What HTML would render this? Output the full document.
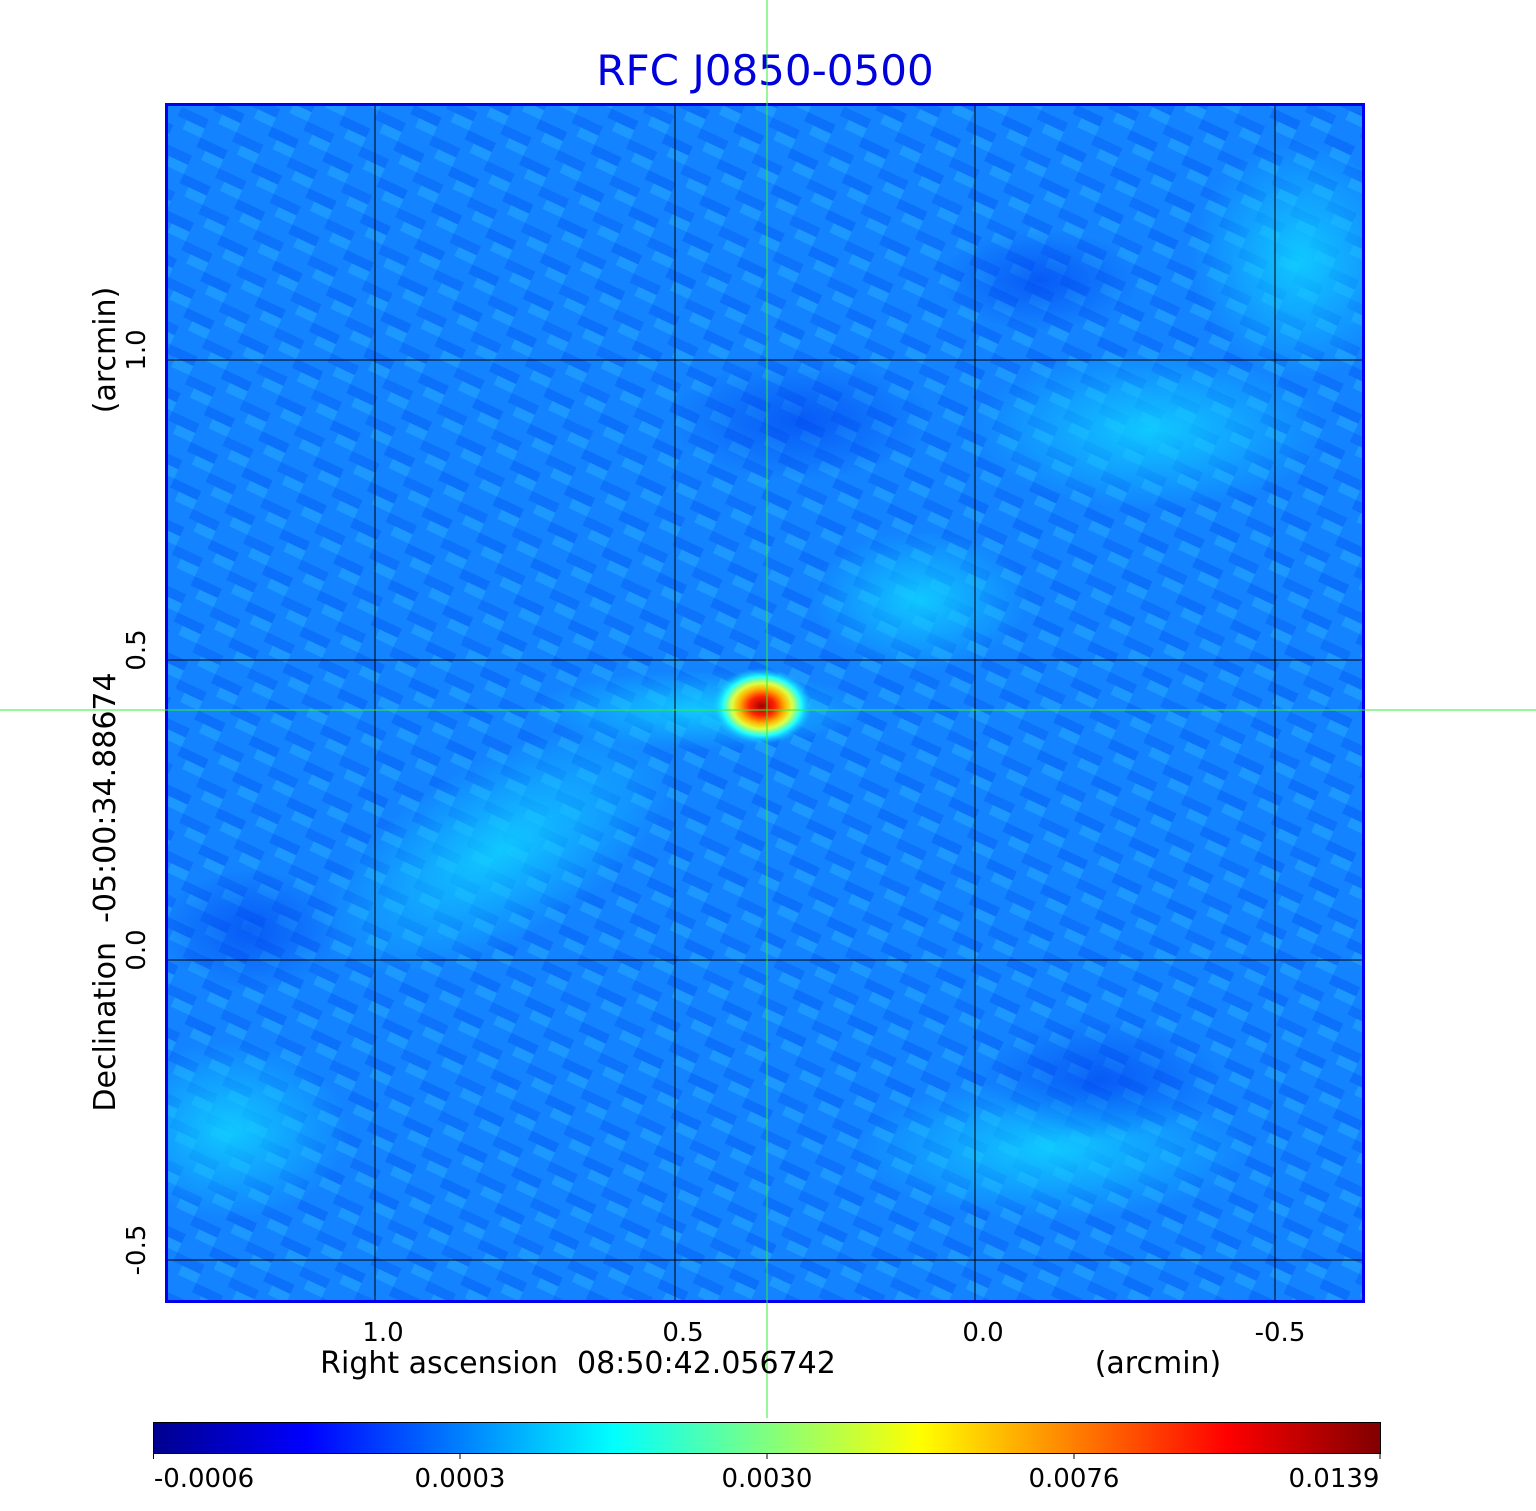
<!DOCTYPE html>
<html><head><meta charset="utf-8"><style>
html,body{margin:0;padding:0;background:#fff;width:1536px;height:1511px;overflow:hidden;font-family:"DejaVu Sans","Liberation Sans",sans-serif}
text{white-space:pre}
</style></head><body>
<svg width="1536" height="1511" xmlns="http://www.w3.org/2000/svg" style="position:absolute;left:0;top:0">
<defs>
<clipPath id="clip"><rect x="165" y="103" width="1200" height="1200"/></clipPath>
<linearGradient id="jet" x1="0" x2="1" y1="0" y2="0">
<stop offset="0" stop-color="#00008f"/><stop offset="0.125" stop-color="#0000ff"/>
<stop offset="0.375" stop-color="#00ffff"/><stop offset="0.625" stop-color="#ffff00"/>
<stop offset="0.875" stop-color="#ff0000"/><stop offset="1" stop-color="#800000"/>
</linearGradient>
<radialGradient id="lt"><stop offset="0" stop-color="#10d0ff" stop-opacity="0.9"/><stop offset="1" stop-color="#10c8ff" stop-opacity="0"/></radialGradient>
<radialGradient id="dk"><stop offset="0" stop-color="#0040f0" stop-opacity="0.6"/><stop offset="1" stop-color="#0040f0" stop-opacity="0"/></radialGradient>
<radialGradient id="src" cx="0.5" cy="0.5" r="0.5">
<stop offset="0" stop-color="#a00000"/><stop offset="0.25" stop-color="#ff2000"/>
<stop offset="0.45" stop-color="#ffb000"/><stop offset="0.6" stop-color="#e0ff40"/>
<stop offset="0.78" stop-color="#20ffff"/><stop offset="1" stop-color="#10c0ff" stop-opacity="0"/>
</radialGradient>
<pattern id="noise" width="60" height="40" patternUnits="userSpaceOnUse" patternTransform="rotate(25)">
<rect x="0" y="0" width="30" height="10" fill="#0050f0" opacity="0.35"/>
<rect x="30" y="20" width="30" height="10" fill="#0050f0" opacity="0.3"/>
<rect x="10" y="10" width="20" height="10" fill="#30c0ff" opacity="0.35"/>
<rect x="40" y="30" width="20" height="10" fill="#30c0ff" opacity="0.35"/>
</pattern>
</defs>
<text x="765" y="85" font-size="42" fill="#0000dd" text-anchor="middle">RFC J0850-0500</text>
<g clip-path="url(#clip)">
<rect x="165" y="103" width="1200" height="1200" fill="#1383ff"/>
<rect x="165" y="103" width="1200" height="1200" fill="url(#noise)"/>
<ellipse cx="920" cy="600" rx="110" ry="70" fill="url(#lt)"/>
<ellipse cx="500" cy="850" rx="200" ry="90" fill="url(#lt)" transform="rotate(-30 500 850)"/>
<ellipse cx="230" cy="1130" rx="120" ry="90" fill="url(#lt)"/>
<ellipse cx="1300" cy="260" rx="110" ry="120" fill="url(#lt)"/>
<ellipse cx="1150" cy="430" rx="180" ry="80" fill="url(#lt)"/>
<ellipse cx="1050" cy="1150" rx="200" ry="70" fill="url(#lt)"/>
<ellipse cx="250" cy="930" rx="90" ry="60" fill="url(#dk)"/>
<ellipse cx="1100" cy="1080" rx="120" ry="60" fill="url(#dk)"/>
<ellipse cx="800" cy="420" rx="130" ry="60" fill="url(#dk)"/>
<ellipse cx="1040" cy="280" rx="100" ry="50" fill="url(#dk)"/>
<ellipse cx="700" cy="710" rx="170" ry="40" fill="url(#lt)"/>
<ellipse cx="762" cy="706" rx="50" ry="38" fill="url(#src)"/>
</g>
<g stroke="#000" stroke-width="1">
<line x1="375" y1="103" x2="375" y2="1303"/><line x1="675" y1="103" x2="675" y2="1303"/>
<line x1="975" y1="103" x2="975" y2="1303"/><line x1="1275" y1="103" x2="1275" y2="1303"/>
<line x1="165" y1="360" x2="1365" y2="360"/><line x1="165" y1="660" x2="1365" y2="660"/>
<line x1="165" y1="960" x2="1365" y2="960"/><line x1="165" y1="1260" x2="1365" y2="1260"/>
</g>
<rect x="166.5" y="104.5" width="1197" height="1197" fill="none" stroke="#0000ee" stroke-width="3"/>
<line x1="767" y1="0" x2="767" y2="1418" stroke="#33ee33" stroke-width="1"/>
<line x1="0" y1="710" x2="1536" y2="710" stroke="#33ee33" stroke-width="1"/>
<g font-size="26" fill="#000" text-anchor="middle">
<text x="383" y="1341">1.0</text><text x="683" y="1341">0.5</text>
<text x="983" y="1341">0.0</text><text x="1280" y="1341">-0.5</text>
<text x="578" y="1373" font-size="30">Right ascension  08:50:42.056742</text>
<text x="1158" y="1373" font-size="30">(arcmin)</text>
<text transform="translate(145 350) rotate(-90)">1.0</text>
<text transform="translate(145 650) rotate(-90)">0.5</text>
<text transform="translate(145 950) rotate(-90)">0.0</text>
<text transform="translate(145 1250) rotate(-90)">-0.5</text>
<text transform="translate(115 892) rotate(-90)" font-size="30">Declination  -05:00:34.88674</text>
<text transform="translate(115 350) rotate(-90)" font-size="30">(arcmin)</text>
</g>
<rect x="153.5" y="1422.5" width="1227" height="31" fill="url(#jet)" stroke="#000" stroke-width="1"/>
<g stroke="#000"><line x1="153.5" y1="1453" x2="153.5" y2="1459"/><line x1="460" y1="1453" x2="460" y2="1459"/><line x1="767" y1="1453" x2="767" y2="1459"/><line x1="1074" y1="1453" x2="1074" y2="1459"/><line x1="1380" y1="1453" x2="1380" y2="1459"/></g>
<g font-size="26" fill="#000" text-anchor="middle">
<text x="204" y="1487">-0.0006</text><text x="460" y="1487">0.0003</text>
<text x="767" y="1487">0.0030</text><text x="1074" y="1487">0.0076</text><text x="1334" y="1487">0.0139</text>
</g>
</svg>
</body></html>
